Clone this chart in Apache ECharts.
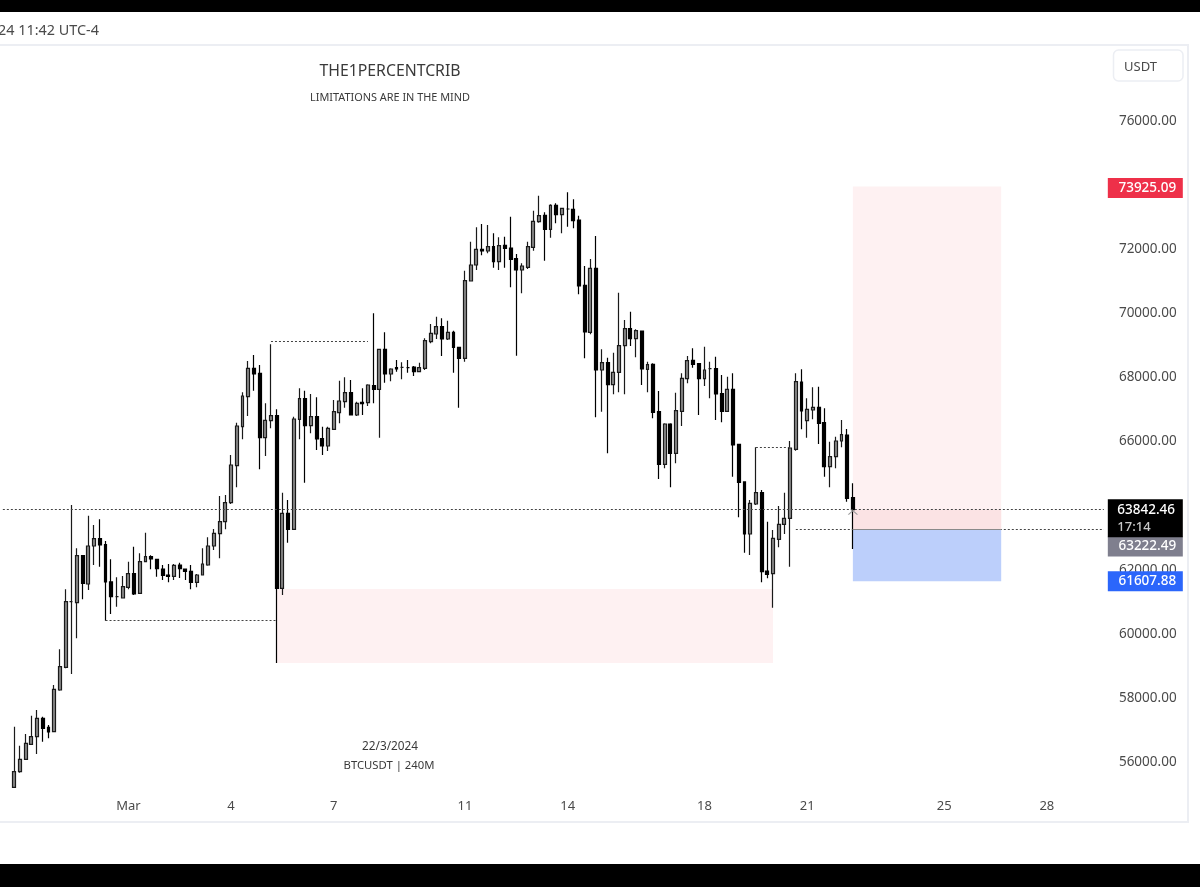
<!DOCTYPE html>
<html>
<head>
<meta charset="utf-8">
<style>html,body{margin:0;padding:0;background:#fff}#c{width:1200px;height:887px}</style>
<script src="https://cdn.jsdelivr.net/npm/echarts@6/dist/echarts.min.js"></script>
</head>
<body>
<div id="c"></div>
<script>
const FIRST_CANDLE = 2, SLOT_COUNT = 208;
const opens = [55179,55668,56053,56521,56760,57332,57051,56916,58216,58923,60972,60941,62407,61523,62709,62938,62750,61586,61128,61086,61419,61846,61232,62220,62376,62293,61991,61804,61762,62116,61991,61918,61575,61804,62116,62709,63094,63468,64061,65215,66432,67368,68252,68096,66089,66619,66775,61388,63728,63229,66661,67306,66463,66744,66058,65829,66349,66868,67212,67493,66796,67191,67181,67711,67597,68845,68075,68273,68283,68273,68294,68148,68252,69084,69323,69552,69167,69375,68907,68564,70977,71476,71965,71913,72048,71580,72090,72006,71674,71320,71403,72027,72828,73026,72589,73338,73046,73223,73213,72880,70842,69375,71372,68200,68429,67742,68127,68960,69490,69178,69417,68221,68377,66900,65257,66515,65600,66910,67930,68502,68397,67930,68242,68242,67462,66910,67597,65881,64706,63083,64019,64373,61929,61846,62917,63385,63572,65725,67826,66619,66952,67035,66557,65184,65496,65985,66172,64217];
const closes = [55668,56053,56552,56760,57332,57020,56906,58237,58944,60972,60972,62407,61544,62709,62938,62740,61586,61128,61128,61440,61846,61211,62220,62376,62303,62002,61794,61762,62106,62002,61918,61575,61804,62147,62709,63104,63468,64061,65236,66453,67389,68252,68075,66089,66630,66775,61388,63728,63229,66671,67306,66463,66744,66047,65829,66380,66900,67233,67493,66796,67160,67150,67732,67597,68845,68075,68231,68231,68283,68273,68148,68273,69115,69344,69552,69167,69375,68907,68564,70987,71476,71965,71913,72048,71580,72079,71996,71653,71320,71445,72048,72838,73015,72589,73338,73046,73244,73223,72859,70821,69386,71372,68200,68429,67742,68127,68960,69490,69178,69427,68231,68366,66879,65257,66515,65600,66931,67940,68491,68377,67930,68200,68242,67451,66910,67597,65860,64695,63083,64040,64373,61908,61825,62948,63385,63572,65766,67836,66921,66973,67035,66536,65184,65496,65985,66182,64196,63842.46];
const highs = [57072,56479,56843,57415,57592,57384,57124,58372,59485,61357,63988,62636,62428,63655,63364,63541,62865,62293,61731,61773,62220,62688,62480,63125,62418,62303,62116,62147,62147,62189,62002,62116,61835,62636,62979,63239,64269,64300,65548,66557,67503,68481,68668,68356,67160,69001,66973,64373,64144,66744,67628,67555,67451,67347,66432,66432,67264,67867,67971,67888,67212,67628,67753,69968,68845,69375,68252,68512,68439,68512,68325,68429,69188,69635,69864,69812,69739,69427,68928,71299,72204,72651,72755,72724,72464,72339,72360,72984,71819,71528,72204,73171,73639,73119,73369,73400,73244,73743,73525,73015,71445,71663,72381,68845,68585,68741,70613,69760,70020,69469,69427,68460,68408,67545,66536,66536,67493,68096,68637,68876,68408,68928,68460,68616,68044,67992,68096,65891,64716,64144,65787,64456,63468,63208,63957,64373,65985,68096,68221,67316,67659,67680,67004,65964,66120,66640,66359,64664];
const lows = [55179,55637,56032,56500,56219,56604,56708,56906,58195,58892,58715,59828,61045,61336,62116,62064,60379,60587,60816,61076,61357,61180,61232,62220,61981,61752,61648,61575,61648,61710,61648,61357,61419,61794,62095,62584,62324,63229,64019,64539,66037,66765,67555,65101,65517,66380,59058,61180,62813,63229,66037,64685,66224,65704,65548,65673,66349,66536,67025,66796,66765,66796,67077,67160,66089,67805,67846,68148,67909,68117,68013,68148,68200,69032,69167,68637,69136,68117,67025,68460,70977,71320,71778,71840,71393,71320,71393,70779,68647,70592,71351,71923,72797,71611,72329,72776,72464,72672,72620,70561,68564,69313,66723,66900,65600,67441,67503,67441,68949,68595,67732,67503,66692,64799,65132,64539,65288,66453,67784,68273,66796,67701,67316,66640,66567,66910,64872,63603,62501,62428,63988,61575,61700,60785,62667,63083,62064,65683,66349,66089,66661,65891,64872,64539,65132,65787,64092,62615];

const priceTicks = [56000,58000,60000,62000,66000,68000,70000,72000,76000];
const dateLabels = ['Mar','4','7','11','14','18','21','25','28'];
const dateIndex = [22,40,58,81,99,123,141,165,183];

const lastPrice = 63842.46, entryPrice = 63222.49, targetPrice = 73925.09, stopPrice = 61607.88;
const countdown = '17:14';
const zoneTop = 61367, zoneBottom = 59058;
const swingLow = 60379, swingHigh = 69105, midHigh = 65787;
const lastIndex = FIRST_CANDLE + opens.length - 1;

const categories = Array.from({length: SLOT_COUNT}, (_, i) => String(i));
const candleData = Array.from({length: FIRST_CANDLE}, () => ['-','-','-','-'])
  .concat(opens.map((o, i) => [o, closes[i], lows[i], highs[i]]));

const DOT = {color:'#444', width:1, type:[2,2]};
const FONT = '"Noto Sans"';
const seg = (i0, i1, v, style) => [{coord:[i0, v], lineStyle:style}, {coord:[i1, v]}];
const BOX_INDEX = 200, BOX_SHIFT = 1.5;
const box = (value, color, text, size, dy, label) => ({
  coord:[BOX_INDEX, value], symbol:'rect', symbolSize:size, symbolOffset:[BOX_SHIFT, dy],
  itemStyle:{color}, label:Object.assign({show:true, position:'inside', formatter:text, color:'#fff',
    fontFamily:FONT, fontSize:13.5, fontWeight:500, offset:[2,0]}, label||{})
});
const titleText = (text, left, top, fontSize, color, align) => ({
  text, left, top, padding:0, textAlign:align,
  textStyle:{fontSize, fontWeight:'normal', color, fontFamily:FONT}
});

const chart = echarts.init(document.getElementById('c'), null, {renderer:'canvas'});
chart.setOption({
  animation:false,
  backgroundColor:'#fff',
  textStyle:{fontFamily:FONT},
  title:[
    titleText('THE1PERCENTCRIB', 390, 63, 15.8, '#3a3a3a', 'center'),
    titleText('LIMITATIONS ARE IN THE MIND', 390, 92.5, 10.9, '#3a3a3a', 'center'),
    titleText('22/3/2024', 390, 740.5, 11.8, '#3a3a3a', 'center'),
    titleText('BTCUSDT | 240M', 389, 760.5, 11.3, '#3a3a3a', 'center'),
    titleText('24 11:42 UTC-4', -2, 24, 14.4, '#4a4a4a', 'left'),
    titleText('USDT', 1124, 61, 13, '#4a4a4a', 'left')
  ],
  graphic:[
    {type:'rect', shape:{x:0,y:0,width:1200,height:12}, style:{fill:'#000'}},
    {type:'rect', shape:{x:0,y:864,width:1200,height:23}, style:{fill:'#000'}},
    {type:'rect', shape:{x:-2,y:45,width:1190,height:777}, style:{fill:'none', stroke:'#eceef3', lineWidth:2}, z:-1},
    {type:'rect', shape:{x:1113.5,y:50,width:69.5,height:31,r:5}, style:{fill:'#fff', stroke:'#eceef3', lineWidth:1.5}, z:-1}
  ],
  grid:{left:0, top:55.9, width:1186.6, height:769.2, containLabel:false},
  xAxis:{
    type:'category', data:categories,
    axisLine:{show:false}, axisTick:{show:false}, splitLine:{show:false},
    axisLabel:{
      inside:true, margin:12, color:'#4a4a4a', fontSize:13, fontFamily:FONT,
      interval:(i)=>dateIndex.includes(i),
      formatter:(v,i)=>{const k=dateIndex.indexOf(i); return k>=0?dateLabels[k]:'';}
    }
  },
  yAxis:{
    type:'value', position:'right', min:54000, max:78000, interval:2000, scale:false,
    axisLine:{show:false}, axisTick:{show:false}, splitLine:{show:false},
    axisLabel:{
      inside:true, margin:10, color:'#4a4a4a', fontSize:13.5, fontFamily:FONT,
      rich:{p:{color:'#4a4a4a', fontSize:13.5, fontFamily:FONT, padding:[2,0,0,0]}},
      formatter:(v)=>priceTicks.includes(v)?'{p|'+v.toFixed(2)+'}':''
    }
  },
  series:[{
    type:'candlestick', data:candleData, barWidth:3.4, clip:false,
    itemStyle:{color:'#8a8a8a', color0:'#000', borderColor:'#1a1a1a', borderColor0:'#000', borderWidth:1.2},
    markArea:{
      silent:true,
      data:[
        [{coord:[48, zoneTop], itemStyle:{color:'#fef1f2'}}, {coord:[135, zoneBottom]}],
        [{coord:[lastIndex, targetPrice], itemStyle:{color:'#fef1f2'}}, {coord:[175, entryPrice]}],
        [{coord:[lastIndex, lastPrice], itemStyle:{color:'#fbe3e4'}}, {coord:[175, entryPrice]}],
        [{coord:[lastIndex, entryPrice], itemStyle:{color:'#bccffb'}}, {coord:[175, stopPrice]}]
      ]
    },
    markLine:{
      silent:true, symbol:'none', label:{show:false},
      data:[
        seg(0, 193, lastPrice, DOT),
        seg(139, 193, entryPrice, DOT),
        seg(18, 48, swingLow, DOT),
        seg(47, 64, swingHigh, DOT),
        seg(132, 138, midHigh, DOT),
        seg(lastIndex, 175, entryPrice, {color:'#8a8a8a', width:1, type:'solid'})
      ]
    },
    markPoint:{
      silent:true,
      data:[
        box(targetPrice, '#ee3049', targetPrice.toFixed(2), [75,20], 1.5),
        box(entryPrice, '#7f7f8e', entryPrice.toFixed(2), [75,20], 17),
        box(stopPrice, '#2b66fb', stopPrice.toFixed(2), [75,20], 0),
        box(lastPrice, '#000', '{a|'+lastPrice.toFixed(2)+'}\n{b|'+countdown+'}', [75,38], 8.5, {
          rich:{a:{color:'#fff', fontSize:13.5, fontWeight:500, fontFamily:FONT, lineHeight:18, width:60, align:'left'},
                b:{color:'#c8c8c8', fontSize:13, fontFamily:FONT, lineHeight:16, width:60, align:'left'}}
        }),
        {coord:[lastIndex, lastPrice], symbol:'path://M0 10 L10 0 L20 10', symbolSize:[9,4], symbolOffset:[0,3],
         itemStyle:{color:'none', borderColor:'#9a9a9a', borderWidth:1}, label:{show:false}}
      ]
    }
  }]
});
</script>
</body>
</html>
